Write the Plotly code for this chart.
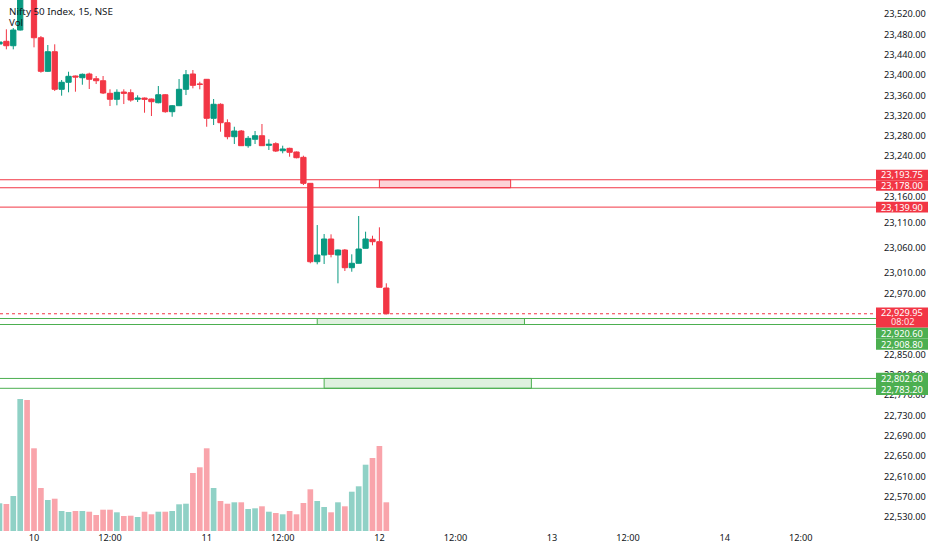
import plotly.graph_objects as go

# ---------------- data (Nifty 50 Index, 15 min, NSE) ----------------
sessions = {
    "07": ["14:15", "14:30", "14:45", "15:00", "15:15"],
    "10": [f"{h:02d}:{m:02d}" for h in range(9, 16) for m in (0, 15, 30, 45)
           if (h, m) >= (9, 15) and (h, m) <= (15, 15)],
    "11": [f"{h:02d}:{m:02d}" for h in range(9, 16) for m in (0, 15, 30, 45)
           if (h, m) >= (9, 15) and (h, m) <= (15, 15)],
    "12": ["09:15", "09:30"],
}
times = [f"{d} {t}" for d, ts in sessions.items() for t in ts]

opens = [
    23460.9, 23466.3, 23457.6, 23488.5, 23568.0,
    23550.0, 23473.3, 23407.2, 23445.8, 23371.8, 23385.6, 23398.0, 23394.6, 23401.9, 23392.6,
    23388.7, 23363.9, 23352.1, 23366.5, 23365.1, 23352.1, 23354.6, 23352.7, 23345.4, 23361.1,
    23327.7, 23339.5, 23371.8, 23401.9, 23382.2,
    23391.5, 23314.7, 23342.3, 23306.0, 23278.5, 23289.7, 23260.8, 23273.4, 23280.4, 23261.5,
    23264.7, 23250.9, 23255.6, 23248.4, 23237.9, 23186.7, 23032.4, 23045.6, 23077.1, 23045.6,
    23055.4, 23020.6, 23029.3, 23058.8, 23076.5,
    23071.8, 22980.6,
]
highs = [
    23466.9, 23489.9, 23492.4, 23562.0, 23578.0,
    23568.6, 23476.7, 23459.0, 23460.4, 23390.1, 23406.4, 23398.9, 23402.9, 23404.5, 23398.0,
    23398.0, 23371.8, 23371.8, 23371.8, 23371.8, 23360.0, 23355.6, 23353.7, 23378.3, 23362.5,
    23340.9, 23392.0, 23409.8, 23409.8, 23386.7,
    23392.0, 23352.7, 23344.2, 23312.7, 23298.1, 23291.7, 23279.8, 23289.7, 23303.5, 23273.4,
    23267.5, 23260.8, 23256.8, 23249.3, 23241.1, 23187.3, 23104.6, 23086.9, 23086.3, 23056.4,
    23057.4, 23047.0, 23122.4, 23091.5, 23083.6,
    23100.1, 22989.9,
]
lows = [
    23459.0, 23450.5, 23450.5, 23487.5, 23552.0,
    23454.4, 23404.5, 23405.8, 23368.4, 23359.2, 23365.9, 23367.1, 23380.8, 23372.4, 23382.2,
    23362.5, 23338.9, 23340.3, 23342.8, 23347.4, 23346.8, 23325.7, 23319.2, 23344.2, 23325.7,
    23317.8, 23338.9, 23360.5, 23373.7, 23371.8,
    23298.1, 23301.5, 23288.3, 23273.4, 23264.1, 23260.2, 23256.8, 23264.1, 23260.2, 23252.3,
    23248.4, 23245.8, 23239.1, 23235.9, 23183.4, 23029.3, 23027.3, 23027.9, 23041.0, 22989.9,
    23014.1, 23012.7, 23028.9, 23058.4, 23064.7,
    22981.6, 22929.0,
]
closes = [
    23464.9, 23457.6, 23488.5, 23556.0, 23559.95,
    23473.3, 23407.2, 23445.8, 23371.8, 23385.6, 23397.4, 23396.0, 23401.3, 23391.5, 23388.7,
    23364.5, 23352.1, 23365.9, 23363.9, 23350.7, 23354.6, 23352.1, 23347.4, 23361.1, 23327.7,
    23339.5, 23371.8, 23400.5, 23379.6, 23381.6,
    23314.7, 23342.3, 23306.0, 23278.5, 23289.7, 23260.8, 23275.3, 23280.4, 23260.8, 23263.5,
    23250.3, 23254.3, 23247.8, 23237.1, 23186.7, 23032.4, 23045.6, 23077.1, 23046.9, 23055.4,
    23020.6, 23029.3, 23057.4, 23077.1, 23071.8,
    22982.0, 22929.95,
]
volumes = [  # millions (estimated)
    2.77, 2.70, 3.50, 13.2, 13.1,
    8.27, 4.30, 3.10, 3.23, 2.00, 1.90, 2.00, 2.00, 1.93, 1.60,
    2.13, 2.13, 1.87, 1.50, 1.53, 1.40, 1.93, 1.67, 1.93, 1.93,
    2.00, 2.67, 2.73, 5.80, 6.37,
    8.27, 4.30, 3.00, 2.73, 2.87, 2.87, 2.20, 2.27, 2.47, 1.93,
    1.80, 1.67, 2.00, 1.67, 2.80, 4.17, 3.00, 2.40, 1.87, 2.87,
    2.47, 3.93, 4.47, 6.63, 7.30,
    8.50, 2.87,
]

# time-axis ticks (bar index -> label), including future bars
tick_idx = [5, 16, 30, 41, 55, 66, 80, 91, 105, 116]
tick_text = ["10", "12:00", "11", "12:00", "12", "12:00", "13", "12:00", "14", "12:00"]

price_ticks = [23520, 23480, 23440, 23400, 23360, 23320, 23280, 23240, 23160, 23110,
               23060, 23010, 22970, 22850, 22810, 22770, 22730, 22690, 22650, 22610,
               22570, 22530]

red_levels = [23193.75, 23178.00, 23139.90]
green_levels = [22920.60, 22908.80, 22802.60, 22783.20]
last_price = closes[-1]
countdown = "08:02"

# zones: (start bar, end bar, upper price, lower price)
red_zones = [(55, 74, 23193.75, 23178.00)]
green_zones = [(46, 76, 22920.60, 22908.80), (47, 77, 22802.60, 22783.20)]

# ---------------- styling ----------------
UP = "#089981"
DOWN = "#F23645"
GRN = "#4CAF50"
TXT = "#131722"
FONT = "Noto Sans"

x = list(range(len(times)))
vol_colors = ["rgba(8,153,129,0.45)" if c >= o else "rgba(242,54,69,0.45)"
              for o, c in zip(opens, closes)]

fig = go.Figure()
fig.add_trace(go.Bar(
    x=x, y=volumes, width=0.82, yaxis="y2",
    marker=dict(color=vol_colors, line=dict(width=0)),
    hoverinfo="skip",
))
fig.add_trace(go.Candlestick(
    x=x, open=opens, high=highs, low=lows, close=closes,
    increasing=dict(line=dict(color=UP, width=1), fillcolor=UP),
    decreasing=dict(line=dict(color=DOWN, width=1), fillcolor=DOWN),
    whiskerwidth=0, text=times, name="NIFTY",
))

shapes = []
annotations = []
PW = 874.0  # plot width in px

for lv in red_levels:
    shapes.append(dict(type="line", xref="paper", yref="y", x0=0, x1=877 / PW,
                       y0=lv, y1=lv, line=dict(color=DOWN, width=1)))
for lv in green_levels:
    shapes.append(dict(type="line", xref="paper", yref="y", x0=0, x1=877 / PW,
                       y0=lv, y1=lv, line=dict(color=GRN, width=1)))
shapes.append(dict(type="line", xref="paper", yref="y", x0=0, x1=1,
                   y0=last_price, y1=last_price, line=dict(color=DOWN, width=1, dash="dot")))

for (a, b, top, bot) in red_zones:
    shapes.append(dict(type="rect", xref="x", yref="y", x0=a, x1=b, y0=bot, y1=top,
                       fillcolor="rgba(242,54,69,0.22)", line=dict(color=DOWN, width=1)))
for (a, b, top, bot) in green_zones:
    shapes.append(dict(type="rect", xref="x", yref="y", x0=a, x1=b, y0=bot, y1=top,
                       fillcolor="rgba(76,175,80,0.18)", line=dict(color=GRN, width=1)))

# price label boxes on the right scale: (value, colour, box top px, box bottom px, text shift px)
label_specs = [
    (red_levels[0], DOWN, 10.0, -0.5, 4.8),
    (red_levels[1], DOWN, 7.5, -3.0, 2.2),
    (red_levels[2], DOWN, 5.3, -5.3, 0.0),
    (green_levels[0], GRN, -8.9, -20.1, -14.5),
    (green_levels[1], GRN, -14.1, -25.3, -19.7),
    (green_levels[2], GRN, 5.6, -5.5, 0.0),
    (green_levels[3], GRN, 4.4, -6.8, -1.2),
]
BX0, BX1 = 876 / PW, 928 / PW
for val, col, t, bt, ts in label_specs:
    shapes.append(dict(type="rect", xref="paper", yref="y", x0=BX0, x1=BX1,
                       ysizemode="pixel", yanchor=val, y0=bt, y1=t,
                       fillcolor=col, line=dict(width=0), layer="above"))
    annotations.append(dict(xref="paper", yref="y", x=(BX0 + BX1) / 2, y=val,
                            xanchor="center", yanchor="middle", yshift=ts,
                            text=f"{val:,.2f}", showarrow=False,
                            font=dict(family=FONT, size=9.2, color="white")))
# last price + countdown
shapes.append(dict(type="rect", xref="paper", yref="y", x0=BX0, x1=BX1,
                   ysizemode="pixel", yanchor=last_price, y0=-13.7, y1=6.3,
                   fillcolor=DOWN, line=dict(width=0), layer="above"))
annotations.append(dict(xref="paper", yref="y", x=(BX0 + BX1) / 2, y=last_price,
                        xanchor="center", yanchor="middle", yshift=1.3,
                        text=f"{last_price:,.2f}", showarrow=False,
                        font=dict(family=FONT, size=9.2, color="white")))
annotations.append(dict(xref="paper", yref="y", x=(BX0 + BX1) / 2, y=last_price,
                        xanchor="center", yanchor="middle", yshift=-8.1,
                        text=countdown, showarrow=False,
                        font=dict(family=FONT, size=9.2, color="#FDE3E5")))

# legend text top-left
annotations.append(dict(xref="paper", yref="paper", x=7 / PW, y=1, xanchor="left", yanchor="middle",
                        yshift=-11, text="Nifty 50 Index, 15, NSE", showarrow=False,
                        font=dict(family=FONT, size=9.8, color=TXT)))
annotations.append(dict(xref="paper", yref="paper", x=7 / PW, y=1, xanchor="left", yanchor="middle",
                        yshift=-22.5, text="Vol", showarrow=False,
                        font=dict(family=FONT, size=9.8, color=TXT)))

# scale: bar i centre at 34 + (i-5)*6.908 px; price 0.508 px / point
x_lo = 5 - 34 / 6.908
x_hi = 5 + (PW - 34) / 6.908
y_top = 23547.6
y_bot = 22502.3

fig.update_layout(
    width=932, height=550,
    margin=dict(l=0, r=58, t=0, b=19),
    paper_bgcolor="white", plot_bgcolor="white",
    showlegend=False,
    boxgap=0.1, boxgroupgap=0.15,
    shapes=shapes, annotations=annotations,
    xaxis=dict(range=[x_lo, x_hi], tickmode="array", tickvals=tick_idx, ticktext=tick_text,
               showgrid=False, zeroline=False, showline=False, ticks="",
               tickfont=dict(family=FONT, size=9.2, color=TXT),
               rangeslider=dict(visible=False), fixedrange=True),
    yaxis=dict(side="right", range=[y_bot, y_top], tickmode="array", tickvals=price_ticks,
               tickformat=",.2f", showgrid=False, zeroline=False, showline=False, ticks="",
               tickfont=dict(family=FONT, size=9.2, color=TXT), ticklabelstandoff=9,
               fixedrange=True),
    yaxis2=dict(overlaying="y", range=[0, 53.1], visible=False, fixedrange=True),
)

fig.write_html("out.html", config={"displayModeBar": False},
               post_script="document.body.style.margin='0';document.body.style.overflow='hidden';")
